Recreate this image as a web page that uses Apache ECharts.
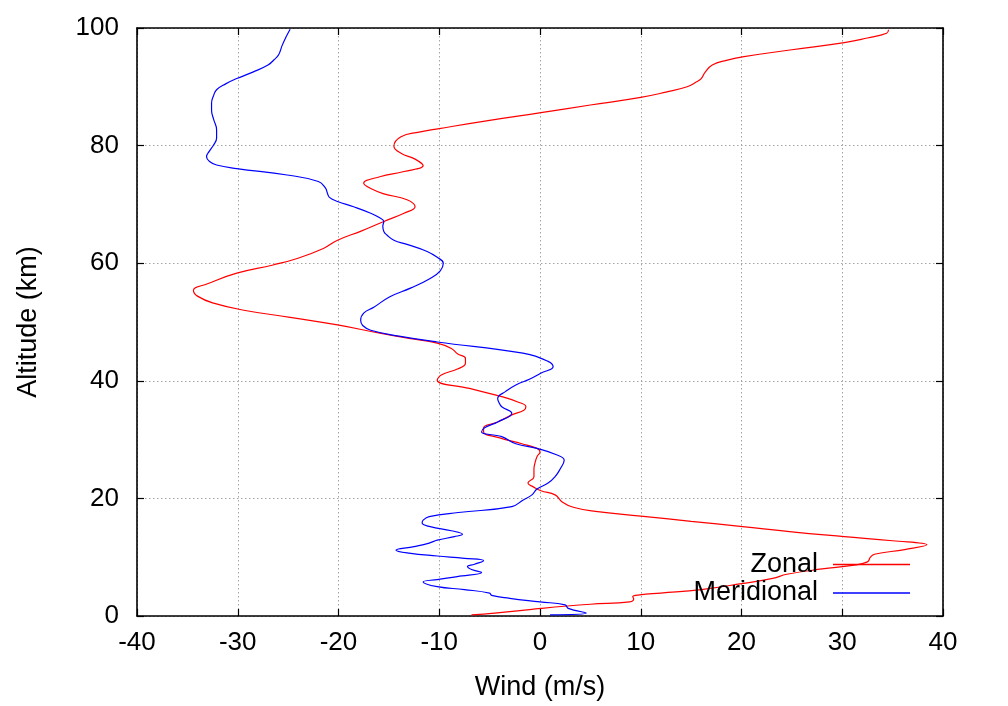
<!DOCTYPE html>
<html>
<head>
<meta charset="utf-8">
<script src="https://cdn.jsdelivr.net/npm/echarts@6/dist/echarts.min.js"></script>
<style>
  html, body { margin: 0; padding: 0; background: #fff; }
  #wind-chart { width: 1008px; height: 706px; }
</style>
</head>
<body>
<div id="wind-chart"></div>
<script>
// zonal wind profile (red)
var zonalAlt = [0.2, 0.5, 0.9, 1.3, 2.0, 2.4, 2.9, 3.3, 3.6, 3.9, 4.5, 5.5, 6.4, 7.1, 8.0, 8.6, 9.2, 10.0, 10.5, 11.3,
  12.1, 12.8, 13.5, 14.3, 15.2, 16.1, 17.0, 17.8, 18.5, 19.4, 20.6, 21.3, 22.0, 22.6, 23.7, 25.0, 26.0, 27.1, 27.9,
  28.5, 29.3, 30.3, 31.3, 32.0, 33.0, 34.2, 35.0, 35.6, 36.4, 37.3, 38.7, 40.1, 41.0, 42.0, 43.0, 43.8, 44.6, 45.5,
  46.4, 47.2, 48.1, 49.5, 50.8, 52.0, 53.2, 54.4, 55.4, 56.5, 58.3, 59.7, 60.8, 62.5, 63.9, 65.5, 67.1, 68.5, 69.6,
  70.8, 71.8, 72.7, 73.6, 74.7, 75.6, 76.6, 77.7, 78.7, 79.9, 81.5, 82.3, 82.9, 84.3, 85.6, 86.9, 88.2, 89.1, 90.0,
  90.8, 91.4, 92.5, 93.7, 94.5, 95.1, 96.3, 97.5, 98.3, 99.1, 99.7];
var zonalWind = [-6.8, -4.5, -2.0, 0.1, 5.0, 8.9, 9.3, 9.2, 9.9, 12.0, 16.0, 20.0, 23.1, 24.5, 28.0, 31.0, 32.5, 32.8, 33.2, 36.2,
  38.4, 35.0, 30.2, 25.0, 20.1, 15.0, 10.0, 5.5, 3.3, 2.2, 1.5, 0.1, -0.7, -1.2, -0.6, -0.6, -0.5, -0.3, 0.0,
  -0.3, -1.8, -4.0, -5.6, -5.6, -4.2, -2.8, -1.6, -1.4, -2.2, -3.8, -7.0, -10.2, -9.8, -8.2, -7.4, -7.4, -8.2, -8.8,
  -10.2, -13.0, -15.9, -20.1, -24.8, -29.4, -32.4, -34.0, -34.4, -33.0, -30.1, -26.5, -24.1, -21.5, -20.1, -17.7, -15.5, -13.5, -12.4,
  -13.2, -15.5, -16.8, -17.5, -15.9, -13.5, -11.6, -12.4, -13.8, -14.5, -13.8, -12.0, -10.0, -5.0, 0.1, 5.0, 10.0, 12.5, 14.6,
  15.5, 16.0, 16.4, 17.1, 18.5, 20.1, 25.0, 30.2, 32.5, 34.4, 34.6];

// meridional wind profile (blue)
var meridAlt = [0.2, 0.5, 1.3, 1.9, 2.4, 3.0, 3.5, 3.9, 4.5, 5.0, 5.8, 6.2, 6.7, 7.4, 7.9, 8.4, 8.8, 9.4, 9.8, 10.2,
  10.7, 11.2, 11.8, 12.4, 12.9, 13.5, 13.9, 14.5, 15.2, 15.8, 16.3, 16.9, 17.6, 18.6, 19.7, 20.6, 21.6, 22.6, 23.7,
  25.0, 26.5, 27.5, 28.5, 29.3, 30.5, 31.3, 32.0, 33.0, 34.5, 35.6, 36.4, 37.0, 38.2, 39.3, 40.3, 41.3, 42.4, 43.3,
  44.7, 46.6, 47.6, 48.6, 49.4, 50.3, 51.5, 52.5, 54.3, 55.8, 57.4, 58.7, 60.0, 61.0, 62.0, 63.2, 63.9, 64.8, 65.4,
  66.3, 67.1, 67.8, 68.5, 69.6, 70.5, 71.2, 71.9, 72.8, 73.9, 75.0, 76.1, 76.7, 77.3, 78.1, 79.1, 80.1, 81.3, 82.7,
  84.5, 86.0, 87.2, 88.5, 89.5, 90.5, 91.4, 92.5, 93.7, 94.6, 95.3, 96.0, 97.0, 98.5, 99.8];
var meridWind = [1.0, 4.6, 2.8, 2.5, 0.0, -3.0, -4.8, -5.0, -7.5, -10.2, -11.6, -10.2, -8.2, -5.8, -6.8, -7.2, -6.5, -5.6, -7.5, -10.2,
  -13.0, -14.3, -12.5, -11.0, -10.2, -8.5, -7.7, -8.8, -10.9, -11.7, -11.6, -11.0, -8.1, -2.8, -1.7, -0.8, -0.3, 0.8, 1.5,
  2.0, 2.4, 1.5, -0.3, -2.4, -3.8, -5.8, -5.5, -4.2, -2.8, -3.8, -4.1, -4.2, -3.4, -2.4, -1.0, 0.07, 1.3, 0.8,
  -1.7, -10.2, -14.0, -16.8, -17.6, -17.8, -17.5, -16.5, -14.9, -12.8, -10.9, -9.9, -9.6, -10.2, -11.2, -13.2, -14.5, -15.2, -15.5,
  -15.6, -15.5, -16.0, -16.8, -18.5, -20.1, -20.9, -21.1, -21.3, -22.0, -25.1, -30.1, -32.1, -32.8, -33.1, -32.8, -32.4, -32.1, -32.1,
  -32.4, -32.6, -32.6, -32.4, -32.1, -31.2, -30.1, -28.5, -27.0, -26.4, -26.0, -25.8, -25.6, -25.2, -24.8];

var windTicks = [-40, -30, -20, -10, 0, 10, 20, 30, 40];
var altTicks = [0, 20, 40, 60, 80, 100];

var chartDom = document.getElementById('wind-chart');
var windChart = echarts.init(chartDom, null, {renderer: 'canvas'});
var font = 'Liberation Sans, Arial, Helvetica, sans-serif';

function pairs(xs, ys) {
    let out = [];
    for (let i = 0; i < xs.length; i++) {
        out.push([xs[i], ys[i]]);
    }
    return out;
}

var gridLine = {show: true, lineStyle: {color: '#a4a4a4', width: 1, type: [1.5, 2.5]}};
var frameLine = {show: true, onZero: false, lineStyle: {color: '#000', width: 1.6}};
var innerTick = {show: true, inside: true, length: 7, lineStyle: {color: '#000', width: 1.2}};

var option = {
    animation: false,
    backgroundColor: '#fff',
    grid: {left: 137, right: 65, top: 28, bottom: 90},
    legend: {
        orient: 'vertical',
        right: 93,
        top: 546,
        align: 'right',
        icon: 'rect',
        itemWidth: 77,
        itemHeight: 1.3,
        itemGap: 1.5,
        textStyle: {fontFamily: font, fontSize: 27, color: '#000', lineHeight: 27, padding: [0, 10, 0, 0]},
        data: ['Zonal', 'Meridional']
    },
    xAxis: [{
        type: 'value',
        min: windTicks[0],
        max: windTicks[windTicks.length - 1],
        interval: 10,
        name: 'Wind (m/s)',
        nameLocation: 'middle',
        nameGap: 58,
        nameTextStyle: {fontFamily: font, fontSize: 27, color: '#000'},
        axisLine: frameLine,
        axisTick: innerTick,
        axisLabel: {fontFamily: font, fontSize: 26, color: '#000', margin: 14},
        splitLine: gridLine
    }, {
        type: 'value',
        position: 'top',
        min: windTicks[0],
        max: windTicks[windTicks.length - 1],
        interval: 10,
        axisLine: frameLine,
        axisTick: innerTick,
        axisLabel: {show: false},
        splitLine: {show: false}
    }],
    yAxis: [{
        type: 'value',
        min: altTicks[0],
        max: altTicks[altTicks.length - 1],
        interval: 20,
        name: 'Altitude (km)',
        nameLocation: 'middle',
        nameGap: 95,
        nameTextStyle: {fontFamily: font, fontSize: 27, color: '#000'},
        axisLine: frameLine,
        axisTick: innerTick,
        axisLabel: {fontFamily: font, fontSize: 26, color: '#000', margin: 18},
        splitLine: gridLine
    }, {
        type: 'value',
        position: 'right',
        min: altTicks[0],
        max: altTicks[altTicks.length - 1],
        interval: 20,
        axisLine: frameLine,
        axisTick: innerTick,
        axisLabel: {show: false},
        splitLine: {show: false}
    }],
    series: [{
        name: 'Zonal',
        type: 'line',
        xAxisIndex: 0,
        yAxisIndex: 0,
        smooth: 0.45,
        showSymbol: false,
        color: '#ff0000',
        lineStyle: {color: '#ff0000', width: 1.2},
        data: pairs(zonalWind, zonalAlt)
    }, {
        name: 'Meridional',
        type: 'line',
        xAxisIndex: 0,
        yAxisIndex: 0,
        smooth: 0.45,
        showSymbol: false,
        color: '#0000ff',
        lineStyle: {color: '#0000ff', width: 1.2},
        data: pairs(meridWind, meridAlt)
    }]
};

option && windChart.setOption(option);
</script>
</body>
</html>
